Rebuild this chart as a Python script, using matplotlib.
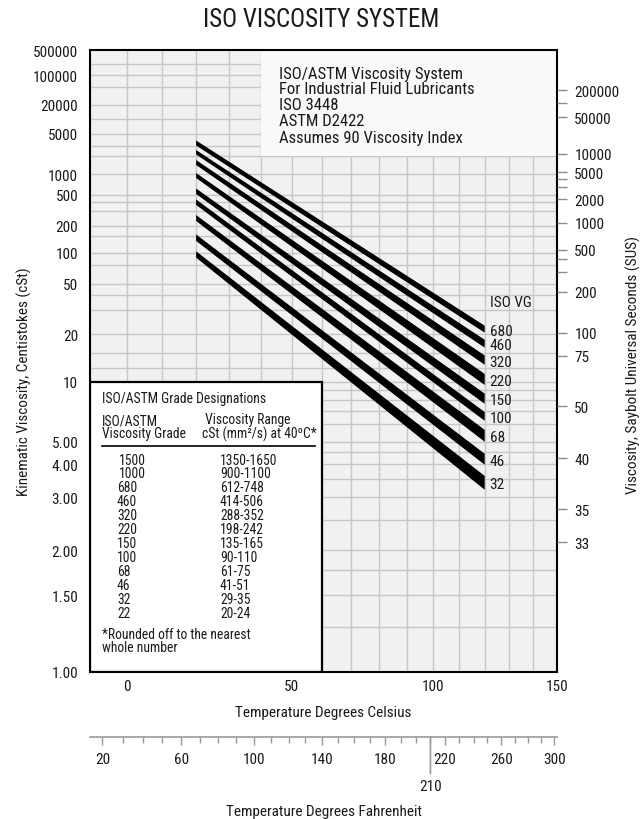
import numpy as np
import matplotlib
matplotlib.use('Agg')
import matplotlib.pyplot as plt
from matplotlib.ticker import FixedLocator, NullLocator
from matplotlib.patches import Rectangle

plt.rcParams['font.family'] = ['Roboto Condensed', 'DejaVu Sans']
plt.rcParams['text.color'] = '#1a1a1a'
plt.rcParams['xtick.color'] = '#1a1a1a'
plt.rcParams['ytick.color'] = '#1a1a1a'

# ---------------- data ----------------
grades = ['680', '460', '320', '220', '150', '100', '68', '46', '32']
t_left, t_right = 20, 120                     # deg C, band ends
left_hi = [3740, 2520, 1700, 1050, 615, 432, 270, 158, 103.5]   # cSt at 20 C
left_lo = [3035, 2110, 1410, 880, 515, 365, 228, 134, 89]
right_hi = [23.0, 18.3, 14.4, 11.1, 8.6, 6.9, 5.66, 4.43, 3.60]  # cSt at 120 C
right_lo = [20.5, 16.2, 12.6, 9.6, 7.6, 6.25, 5.0, 3.99, 3.19]

cst_ticks = [500000, 100000, 20000, 5000, 1000, 500, 200, 100, 50, 20, 10,
             5, 4, 3, 2, 1.5, 1]
cst_labels = ['500000', '100000', '20000', '5000', '1000', '500', '200', '100',
              '50', '20', '10', '5.00', '4.00', '3.00', '2.00', '1.50', '1.00']
cst_grid = [200000, 100000, 50000, 20000, 10000, 5000, 3000, 2000, 1000, 500,
            400, 300, 200, 150, 100, 75, 50, 40, 30, 20, 15, 12, 10,
            9, 8, 7, 6, 5, 4.5, 4, 3.5, 3, 2.5, 2, 1.75, 1.5, 1.25]

sus_ticks = [200000, 100000, 50000, 10000, 5000, 4000, 3000, 2000, 1000, 500,
             400, 300, 200, 100, 75, 50, 40, 35, 33]
sus_labels = ['200000', '', '50000', '10000', '5000', '', '', '2000', '1000',
              '500', '', '', '200', '100', '75', '50', '40', '35', '33']

c_ticks = [0, 50, 100, 150]
c_grid = list(range(-10, 151, 10))
f_major = [20, 60, 100, 140, 180, 220, 260, 300]
f_minor = [f for f in range(20, 301, 10) if f not in f_major]

table_grades = ['1500', '1000', '680', '460', '320', '220', '150', '100',
                '68', '46', '32', '22']
table_ranges = ['1350-1650', '900-1100', '612-748', '414-506', '288-352',
                '198-242', '135-165', '90-110', '61-75', '41-51', '29-35', '20-24']

box_lines = ['ISO/ASTM Viscosity System', 'For Industrial Fluid Lubricants',
             'ISO 3448', 'ASTM D2422', 'Assumes 90 Viscosity Index']


# ---------------- scales (ASTM D341 style) ----------------
def visc_fwd(v):
    with np.errstate(all='ignore'):
        return np.log10(np.log10(np.asarray(v, dtype=float) + 0.7))


def visc_inv(w):
    with np.errstate(all='ignore'):
        return 10 ** (10 ** np.asarray(w, dtype=float)) - 0.7


def temp_fwd(t):
    with np.errstate(all='ignore'):
        return np.log10(np.asarray(t, dtype=float) + 273.15)


def temp_inv(w):
    return 10 ** np.asarray(w, dtype=float) - 273.15


def fahr_fwd(f):
    return temp_fwd((np.asarray(f, dtype=float) - 32) / 1.8)


def fahr_inv(w):
    return temp_inv(w) * 1.8 + 32


# SUS -> cSt (ASTM D2161 at 100 F), inverted numerically
v_grid = np.logspace(-0.2, 6.5, 20000)
sus_grid = 4.6324 * v_grid + (1 + 0.03264 * v_grid) / (
    (3930.2 + 262.7 * v_grid + 23.97 * v_grid ** 2 + 1.646 * v_grid ** 3) * 1e-5)
sus_cst = np.interp(sus_ticks, sus_grid, v_grid)

# ---------------- figure ----------------
W, H = 642, 820
AX_L, AX_R, AX_T, AX_B = 90, 557, 51, 673

fig = plt.figure(figsize=(W / 100, H / 100), dpi=100)
ax = fig.add_axes([AX_L / W, (H - AX_B) / H, (AX_R - AX_L) / W, (AX_B - AX_T) / H])


def ax_x(px):
    return (px - AX_L) / (AX_R - AX_L)


def ax_y(py):
    return (AX_B - py) / (AX_B - AX_T)


ax.set_xscale('function', functions=(temp_fwd, temp_inv))
ax.set_yscale('function', functions=(visc_fwd, visc_inv))
ax.set_xlim(-10, 150)
ax.set_ylim(1, 500000)
ax.set_facecolor('#f1f1f1')

grid_kw = dict(color='#c6c6c6', lw=1.0, zorder=1)
ax.vlines(c_grid, 1, 500000, **grid_kw)
ax.hlines(cst_grid, -10, 150, **grid_kw)

# light panel behind the top-right notes
ax.add_patch(Rectangle((40, 2000), 110, 498000, facecolor='#f9f9f9',
                       edgecolor='none', zorder=2))

# viscosity grade bands
for hl, ll, hr, lr in zip(left_hi, left_lo, right_hi, right_lo):
    ax.fill([t_left, t_right, t_right, t_left], [hl, hr, lr, ll],
            color='black', lw=0, zorder=3)

for g, hr, lr in zip(grades, right_hi, right_lo):
    ymid = visc_inv((visc_fwd(hr) + visc_fwd(lr)) / 2)
    ax.annotate(g, xy=(t_right, ymid), xytext=(3.5, -1), textcoords='offset points',
                ha='left', va='center', fontsize=11, zorder=5)
ax.annotate('ISO VG', xy=(t_right, 35), xytext=(3.5, 0), textcoords='offset points',
            ha='left', va='center', fontsize=11, zorder=5)

# notes top right
for i, line in enumerate(box_lines):
    ax.text(ax_x(279), ax_y(78.5 + 16 * i), line, transform=ax.transAxes,
            ha='left', va='baseline', fontsize=12, zorder=5)

# grade designation table
ax.add_patch(Rectangle((-10, 1), 70, 9, facecolor='white', edgecolor='black',
                       lw=1.6, zorder=4))
tkw = dict(transform=ax.transAxes, ha='left', va='baseline', fontsize=9.8, zorder=5)
ax.text(ax_x(102), ax_y(402.5), 'ISO/ASTM Grade Designations', **tkw)
ax.text(ax_x(102), ax_y(438.5), 'ISO/ASTM\nViscosity Grade', linespacing=0.95, **tkw)
ax.text(ax_x(202), ax_y(438.5), ' Viscosity Range\ncSt (mm²/s) at 40ºC*',
        linespacing=0.95, **tkw)
ax.plot([ax_x(102), ax_x(315)], [ax_y(446.7)] * 2, transform=ax.transAxes,
        color='black', lw=1.2, zorder=5)
for i, (g, r) in enumerate(zip(table_grades, table_ranges)):
    yb = ax_y(464.6 + 13.9 * i)
    ax.text(ax_x(119 if len(g) == 4 else 117), yb, g, **tkw)
    ax.text(ax_x(220), yb, r, **tkw)
ax.text(ax_x(102), ax_y(652.5), '*Rounded off to the nearest\nwhole number',
        linespacing=0.95, **tkw)

# axes ticks
ax.xaxis.set_major_locator(FixedLocator(c_ticks))
ax.xaxis.set_minor_locator(NullLocator())
ax.set_xticklabels([str(c) for c in c_ticks])
ax.yaxis.set_major_locator(FixedLocator(cst_ticks))
ax.yaxis.set_minor_locator(NullLocator())
ax.set_yticklabels(cst_labels)
ax.tick_params(axis='x', length=0, pad=5, labelsize=11)
ax.tick_params(axis='y', length=0, pad=8.5, labelsize=11)
for s in ax.spines.values():
    s.set_linewidth(1.5)
    s.set_zorder(10)

ax2 = ax.twinx()
ax2.set_yscale('function', functions=(visc_fwd, visc_inv))
ax2.set_ylim(1, 500000)
ax2.yaxis.set_major_locator(FixedLocator(sus_cst))
ax2.yaxis.set_minor_locator(NullLocator())
ax2.set_yticklabels(sus_labels)
ax2.tick_params(axis='y', direction='out', length=7.5, width=1, color='#8c8c8c',
                labelcolor='#1a1a1a', pad=5, labelsize=11)
for s in ax2.spines.values():
    s.set_visible(False)

# Fahrenheit scale
axf = fig.add_axes([AX_L / W, (H - 738) / H, (AX_R - AX_L) / W, 0.0001])
axf.set_xscale('function', functions=(fahr_fwd, fahr_inv))
axf.set_xlim(14, 302)
axf.set_facecolor('none')
for k in ['top', 'left', 'right']:
    axf.spines[k].set_visible(False)
axf.spines['bottom'].set_color('#9a9a9a')
axf.spines['bottom'].set_linewidth(1.2)
axf.set_yticks([])
axf.xaxis.set_major_locator(FixedLocator(f_major))
axf.xaxis.set_minor_locator(FixedLocator(f_minor))
axf.set_xticklabels([str(f) for f in f_major])
axf.tick_params(axis='x', which='major', length=6, width=1, color='#9a9a9a',
                labelcolor='#1a1a1a', pad=5, labelsize=11)
axf.tick_params(axis='x', which='minor', length=4, width=1, color='#9a9a9a')
axf.annotate('210', xy=(210, 0), xycoords=('data', 'axes fraction'),
             xytext=(0, -35.5), textcoords='offset points', ha='center', va='center',
             fontsize=11,
             arrowprops=dict(arrowstyle='-', color='#9a9a9a', lw=1.2,
                             shrinkA=2, shrinkB=0))

# titles
fig.text(0.5, 1 - 20 / H, 'ISO VISCOSITY SYSTEM', ha='center', va='center', fontsize=18)
fig.text((AX_L + AX_R) / 2 / W, 1 - 713 / H, 'Temperature Degrees Celsius',
         ha='center', va='center', fontsize=11)
fig.text((AX_L + AX_R) / 2 / W, 1 - 812 / H, 'Temperature Degrees Fahrenheit',
         ha='center', va='center', fontsize=11)
fig.text(24 / W, 1 - 382 / H, 'Kinematic Viscosity, Centistokes (cSt)',
         rotation=90, ha='center', va='center', fontsize=11)
fig.text(633 / W, 1 - 365 / H, 'Viscosity, Saybolt Universal Seconds (SUS)',
         rotation=90, ha='center', va='center', fontsize=11)

fig.savefig('out.png', dpi=100)
